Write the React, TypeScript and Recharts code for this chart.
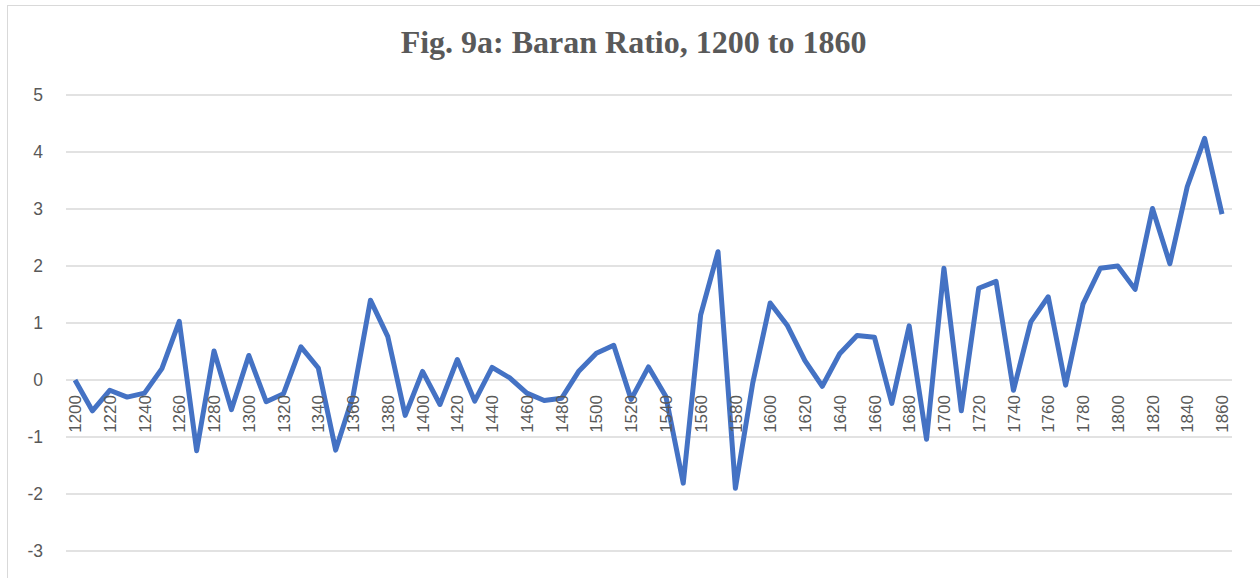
import { LineChart, Line, XAxis, YAxis, CartesianGrid, ReferenceDot } from 'recharts'

const years = [
  1200, 1210, 1220, 1230, 1240, 1250, 1260, 1270, 1280, 1290,
  1300, 1310, 1320, 1330, 1340, 1350, 1360, 1370, 1380, 1390,
  1400, 1410, 1420, 1430, 1440, 1450, 1460, 1470, 1480, 1490,
  1500, 1510, 1520, 1530, 1540, 1550, 1560, 1570, 1580, 1590,
  1600, 1610, 1620, 1630, 1640, 1650, 1660, 1670, 1680, 1690,
  1700, 1710, 1720, 1730, 1740, 1750, 1760, 1770, 1780, 1790,
  1800, 1810, 1820, 1830, 1840, 1850, 1860,
]

const baranRatio = [
  0.0, -0.54, -0.18, -0.3, -0.23, 0.2, 1.03, -1.24, 0.51, -0.52,
  0.43, -0.38, -0.24, 0.58, 0.21, -1.23, -0.28, 1.4, 0.76, -0.62,
  0.15, -0.43, 0.36, -0.37, 0.22, 0.04, -0.23, -0.36, -0.32, 0.16,
  0.47, 0.61, -0.34, 0.23, -0.29, -1.81, 1.14, 2.25, -1.9, -0.05,
  1.35, 0.95, 0.34, -0.11, 0.46, 0.78, 0.75, -0.41, 0.95, -1.04,
  1.96, -0.54, 1.61, 1.73, -0.18, 1.02, 1.46, -0.09, 1.33, 1.96,
  2.0, 1.59, 3.01, 2.04, 3.39, 4.24, 2.91,
]

const yTicks = [-3, -2, -1, 0, 1, 2, 3, 4, 5]

// every other decade gets a label, like the original
const labelYears = years.filter((_, i) => i % 2 === 0)

const data = years.map((year, i) => ({ year, value: baranRatio[i] }))

const textColor = '#595959'

const renderYear = (props: any) => {
  const { viewBox, value } = props
  if (!viewBox) return null
  const x = viewBox.x
  const y = viewBox.y + 15
  return (
    <text
      x={x}
      y={y}
      transform={`rotate(-90, ${x}, ${y})`}
      textAnchor="end"
      dy="0.36em"
      fill={textColor}
      fontSize={17}
      fontFamily="'Liberation Sans', Arial, sans-serif"
    >
      {value}
    </text>
  )
}

export default function App() {
  return (
    <div style={{ position: 'absolute', left: 0, top: 0, width: 1260, height: 578, overflow: 'hidden', background: '#fff' }}>
      <div style={{
        position: 'absolute',
        left: 7,
        top: 5,
        width: 1260,
        height: 620,
        border: '1px solid #d9d9d9',
      }} />
      <div style={{
        position: 'absolute',
        left: 7,
        top: 26,
        width: 1253,
        textAlign: 'center',
        fontFamily: "'Liberation Serif', 'Times New Roman', serif",
        fontWeight: 700,
        fontSize: 32,
        lineHeight: '32px',
        color: textColor,
      }}>
        Fig. 9a: Baran Ratio, 1200 to 1860
      </div>
      <div style={{ position: 'absolute', left: 0, top: 0 }}>
        <LineChart width={1260} height={578} data={data} margin={{ top: 95, right: 28, bottom: 27, left: 0 }}>
          <CartesianGrid vertical={false} stroke="#d9d9d9" strokeWidth={1.3} />
          <XAxis dataKey="year" type="category" hide padding={{ left: 9, right: 10 }} />
          <YAxis
            domain={[-3, 5]}
            ticks={yTicks}
            width={66}
            axisLine={false}
            tickLine={false}
            tickMargin={17}
            tick={{ fill: textColor, fontSize: 17.5, fontFamily: "'Liberation Sans', Arial, sans-serif" }}
          />
          {labelYears.map((y) => (
            <ReferenceDot
              key={y}
              x={y}
              y={0}
              r={0}
              fill="none"
              stroke="none"
              label={{ value: String(y), content: renderYear }}
            />
          ))}
          <Line
            type="linear"
            dataKey="value"
            stroke="#4472c4"
            strokeWidth={5}
            strokeLinejoin="round"
            dot={false}
            isAnimationActive={false}
          />
        </LineChart>
      </div>
    </div>
  )
}
